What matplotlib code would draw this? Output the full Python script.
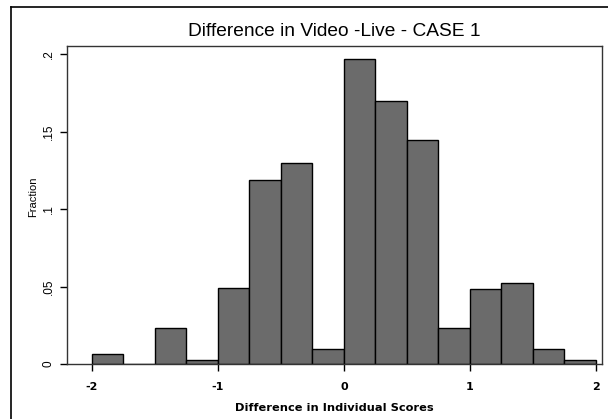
import matplotlib
matplotlib.use("Agg")
import matplotlib.pyplot as plt
from matplotlib.lines import Line2D

# Data
bin_left = [-2.0, -1.75, -1.5, -1.25, -1.0, -0.75, -0.5, -0.25,
            0.0, 0.25, 0.5, 0.75, 1.0, 1.25, 1.5, 1.75]
fractions = [0.0065, 0.0, 0.0235, 0.0026, 0.0488, 0.119, 0.130, 0.0097,
             0.197, 0.1695, 0.1445, 0.0235, 0.0486, 0.052, 0.0097, 0.0026]
bin_width = 0.25
xticks = [-2, -1, 0, 1, 2]
xticklabels = ["-2", "-1", "0", "1", "2"]
yticks = [0, 0.05, 0.1, 0.15, 0.2]
yticklabels = ["0", ".05", ".1", ".15", ".2"]

plt.rcParams['font.family'] = ['Liberation Sans', 'DejaVu Sans']

fig = plt.figure(figsize=(6.08, 4.19), dpi=100)
ax = fig.add_axes([0.1097, 0.1313, 0.9896 - 0.1097, 0.8902 - 0.1313])

ax.bar(bin_left, fractions, width=bin_width, align='edge',
       color='#6b6b6b', edgecolor='black', linewidth=1.0)

ax.set_xlim(-2.20, 2.045)
ax.set_ylim(0, 0.2052)
ax.set_xticks(xticks)
ax.set_xticklabels(xticklabels, fontsize=8, fontweight='bold', family='DejaVu Sans')
ax.set_yticks(yticks)
ax.set_yticklabels(yticklabels, fontsize=8.5, rotation=90, va='center')
ax.tick_params(axis='x', direction='out', length=5, width=1, pad=8)
ax.tick_params(axis='y', direction='out', length=5, width=1, pad=3.5)
for s in ax.spines.values():
    s.set_linewidth(1.0)
    s.set_color('#333333')

ax.set_title("Difference in Video -Live - CASE 1", fontsize=13.8, pad=7)
ax.set_xlabel("Difference in Individual Scores", fontsize=8.2, fontweight='bold',
              family='DejaVu Sans', labelpad=8)
ax.set_ylabel("Fraction", fontsize=8)
ax.yaxis.set_label_coords(-0.054, 0.525)

# outer frame (top and left)
fig.add_artist(Line2D([11/608, 1.0], [1 - 7/419, 1 - 7/419], transform=fig.transFigure,
                      color='black', linewidth=1.2))
fig.add_artist(Line2D([11/608, 11/608], [0, 1 - 7/419], transform=fig.transFigure,
                      color='black', linewidth=1.2))

fig.savefig("out.png", dpi=100)
